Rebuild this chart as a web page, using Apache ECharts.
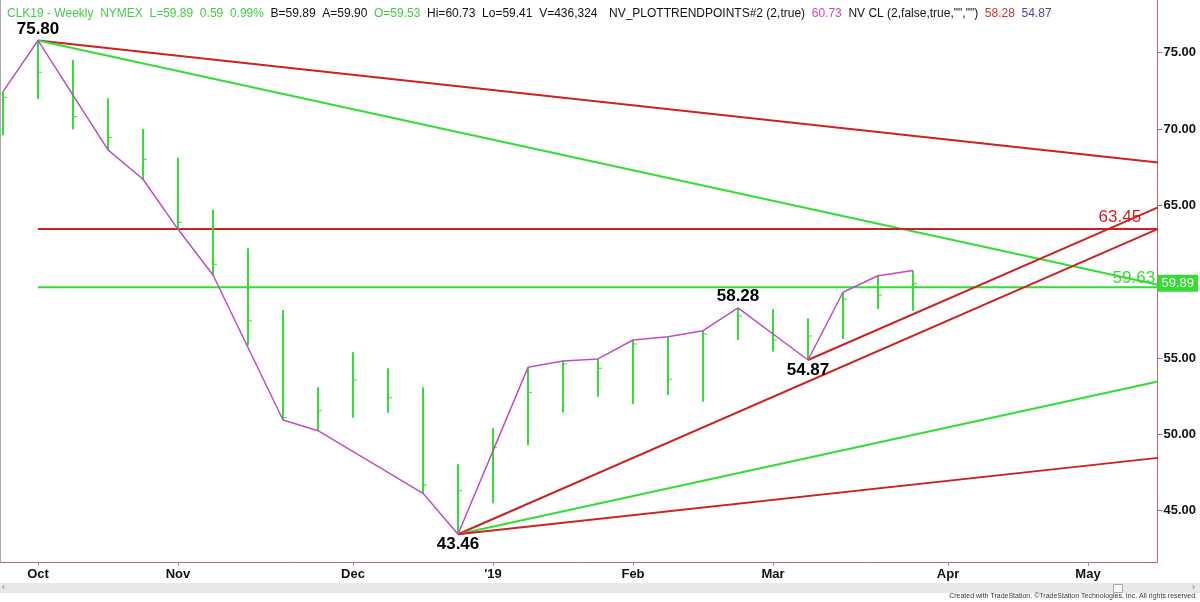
<!DOCTYPE html>
<html><head><meta charset="utf-8">
<script src="https://cdn.jsdelivr.net/npm/echarts@6/dist/echarts.min.js"></script>
<style>html,body{margin:0;padding:0;background:#fff}#c{width:1200px;height:602px}</style>
</head><body><div id="c"></div>
<script>
// ---- data ----
const weekIndex = [0,1,2,3,4,5,6,7,8,9,10,11,12,13,14,15,16,17,18,19,20,21,22,23,24,25,26];
const highs  = [72.45,75.80,74.52,72.01,70.00,68.12,64.70,62.19,58.15,53.08,55.38,54.33,53.08,48.04,50.40,54.39,54.81,54.94,56.18,56.40,56.79,58.28,58.20,57.60,59.31,60.39,60.73];
const lows   = [69.61,71.95,69.98,68.63,66.71,63.43,60.44,55.85,50.94,50.24,51.09,51.42,46.14,43.46,45.49,49.30,51.42,52.47,51.99,52.58,52.14,56.18,55.42,54.87,56.25,58.21,58.10];
const closes = [72.08,73.72,70.81,69.46,68.02,63.89,61.14,57.43,51.09,51.55,53.56,52.40,46.68,46.31,49.13,52.73,54.61,54.33,55.92,53.61,56.57,57.75,56.18,56.44,58.85,59.13,59.89];
const swingBars = [0,1,3,4,5,6,8,9,12,13,15,16,17,18,19,20,21,23,24,25,26];
const swingSide = 'HHLLLLLLLLHHHHHHHLHHH';
const redDownLine   = [[1,75.80],[33,67.80]];
const greenDownLine = [[1,75.80],[33,59.80]];
const redUpLine     = [[13,43.46],[33,63.46]];
const redUpLine2    = [[23,54.87],[33,64.87]];
const greenUpLine   = [[13,43.46],[33,53.46]];
const redLowLine    = [[13,43.46],[33,48.46]];
const retraceRed   = [[1,63.45],[33,63.45]];
const retraceGreen = [[1,59.63],[33,59.63]];
const pivotTop    = [[1,75.80],[21,58.28]];
const pivotBottom = [[13,43.46],[23,54.87]];
const levelLabelRed   = [[31.91,63.45]];
const levelLabelGreen = [[32.31,59.63]];
const lastPrice = 59.89;
const monthTicks  = [1,5,10,14,18,22,27,31];
const monthLabels = ['Oct','Nov','Dec',"'19",'Feb','Mar','Apr','May'];
const priceTicks  = [45,50,55,65,70,75];
const X_MIN = -0.0857, X_MAX = 32.986, Y_MIN = 41.64, Y_MAX = 78.45;

const GREEN = '#33dd33', RED = '#cc2222', MAG = '#c04cc4';
const FONT = 'Liberation Sans, Arial, sans-serif';

const bars = weekIndex.map((w,i)=>[w, highs[i], lows[i], closes[i]]);
const swing = swingBars.map((b,k)=>[b, swingSide[k]==='H'?highs[b]:lows[b]]);

function lineSeries(data, color, width){
  return {type:'line', data, showSymbol:false, symbol:'none', clip:true, silent:true,
    lineStyle:{color, width}, z:3};
}
function labelSeries(data, pos, color, size, weight, dist){
  return {type:'scatter', data, symbolSize:0, clip:false, silent:true, z:6,
    itemStyle:{opacity:1},
    label:{show:true, position:pos, distance:dist, color, opacity:1, fontSize:size, fontWeight:weight, fontFamily:FONT,
      formatter:p=>p.value[1].toFixed(2)}};
}

const chart = echarts.init(document.getElementById('c'));
chart.setOption({
  animation:false,
  backgroundColor:'#ffffff',
  title:[
    {left:2, top:3, text:'{g|CLK19 - Weekly  NYMEX  L=59.89  0.59  0.99%}{k|  B=59.89  A=59.90  }{g|O=59.53}{k|  Hi=60.73  Lo=59.41  V=436,324}',
     textStyle:{fontSize:12, fontFamily:FONT, fontWeight:'normal', rich:{
       g:{color:'#44cc44', fontSize:12, fontFamily:FONT}, k:{color:'#111', fontSize:12, fontFamily:FONT}}}},
    {left:604, top:3, text:'{k|NV_PLOTTRENDPOINTS#2 (2,true)  }{m|60.73}{k|  NV CL (2,false,true,"","")  }{r|58.28}{b|  54.87}',
     textStyle:{fontSize:12, fontFamily:FONT, fontWeight:'normal', rich:{
       k:{color:'#111', fontSize:12, fontFamily:FONT}, m:{color:'#cc44cc', fontSize:12, fontFamily:FONT},
       r:{color:'#cc3333', fontSize:12, fontFamily:FONT}, b:{color:'#4444aa', fontSize:12, fontFamily:FONT}}}}
  ],
  grid:{left:0, right:42.5, top:0, bottom:40, containLabel:false},
  xAxis:{type:'value', min:X_MIN, max:X_MAX, splitLine:{show:false},
    axisLine:{show:true, onZero:false, lineStyle:{color:'#b86a6a', width:1}},
    axisTick:{show:true, length:4, customValues:monthTicks, lineStyle:{color:'#999'}},
    axisLabel:{show:true, customValues:monthTicks, margin:6, color:'#111', fontSize:13, fontWeight:'bold', fontFamily:FONT,
      formatter:v=>{const k=monthTicks.indexOf(v); return k>=0?monthLabels[k]:'';}}},
  yAxis:[
    {type:'value', position:'right', min:Y_MIN, max:Y_MAX, splitLine:{show:false},
     axisLine:{show:true, onZero:false, lineStyle:{color:'#b86a6a', width:1}},
     axisTick:{show:true, length:5, customValues:priceTicks, lineStyle:{color:'#b86a6a'}},
     axisLabel:{show:true, customValues:priceTicks, margin:6, color:'#111', fontSize:13, fontWeight:'bold', fontFamily:FONT,
       formatter:v=>Number(v).toFixed(2)}},
    {type:'value', position:'left', min:Y_MIN, max:Y_MAX, splitLine:{show:false},
     axisLine:{show:true, onZero:false, lineStyle:{color:'#aaaaaa', width:1}},
     axisTick:{show:false}, axisLabel:{show:false}}
  ],
  graphic:[
    {type:'rect', left:0, top:583, shape:{width:1200, height:10}, style:{fill:'#e8e8e8'}, silent:true},
    {type:'rect', left:1113, top:584, shape:{width:9, height:8}, style:{fill:'#f6f6f6', stroke:'#a8a8a8', lineWidth:1}, silent:true},
    {type:'text', left:2, top:583, style:{text:'‹', fontSize:9, fill:'#666', fontFamily:FONT}, silent:true},
    {type:'text', left:1192, top:583, style:{text:'›', fontSize:9, fill:'#666', fontFamily:FONT}, silent:true},
    {type:'text', right:3, top:593, style:{text:'Created with TradeStation. ©TradeStation Technologies, Inc. All rights reserved.', fontSize:7, fill:'#333', fontFamily:FONT}, silent:true}
  ],
  series:[
    lineSeries(redDownLine, RED, 2),
    lineSeries(greenDownLine, GREEN, 2),
    lineSeries(retraceRed, RED, 2),
    lineSeries(retraceGreen, GREEN, 2),
    lineSeries(redUpLine, RED, 2),
    lineSeries(redUpLine2, RED, 2),
    lineSeries(greenUpLine, GREEN, 2),
    lineSeries(redLowLine, RED, 2),
    {type:'custom', data:bars, clip:true, silent:true, z:4,
     renderItem:(params, api)=>{
       const x = api.value(0);
       const h = api.coord([x, api.value(1)]);
       const l = api.coord([x, api.value(2)]);
       const c = api.coord([x, api.value(3)]);
       return {type:'group', children:[
         {type:'line', shape:{x1:h[0], y1:h[1], x2:l[0], y2:l[1]}, style:{stroke:GREEN, lineWidth:2}},
         {type:'line', shape:{x1:c[0]+1, y1:c[1], x2:c[0]+4, y2:c[1]}, style:{stroke:GREEN, lineWidth:1}}
       ]};
     }},
    {type:'line', data:swing, showSymbol:false, symbol:'none', clip:true, silent:true, z:5,
     lineStyle:{color:MAG, width:1.5}},
    labelSeries(pivotTop, 'top', '#000', 17, 'bold', 3),
    labelSeries(pivotBottom, 'bottom', '#000', 17, 'bold', 2),
    labelSeries(levelLabelRed, 'top', RED, 17, 'normal', 3),
    labelSeries(levelLabelGreen, 'top', GREEN, 17, 'normal', 1),
    {type:'scatter', data:[[X_MAX, lastPrice]], symbolSize:0, clip:false, silent:true, z:7,
     itemStyle:{opacity:1},
     label:{show:true, position:'right', distance:0, color:'#fff', backgroundColor:'#33dd33', opacity:1, fontSize:13, fontFamily:FONT,
       padding:[2,4,2,4], formatter:p=>p.value[1].toFixed(2)}}
  ]
});
</script>
</body></html>
